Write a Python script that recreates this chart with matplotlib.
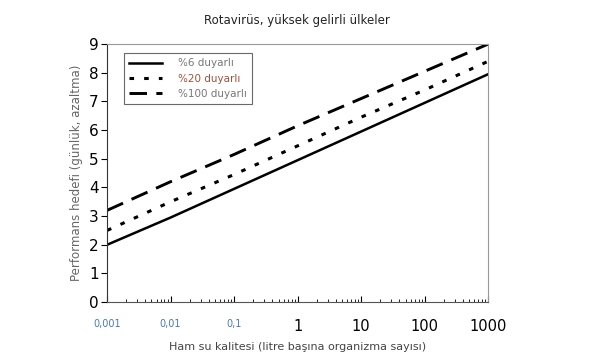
import numpy as np
import matplotlib.pyplot as plt
from matplotlib.ticker import LogLocator, NullFormatter

## Data
x_vals = [0.001, 0.01, 0.1, 1, 10, 100, 1000]
solid_6 = [2.0, 2.95, 3.95, 4.95, 5.95, 6.95, 7.95]
dotted_20 = [2.5, 3.5, 4.45, 5.45, 6.45, 7.4, 8.4]
dashed_100 = [3.2, 4.2, 5.15, 6.15, 7.1, 8.05, 9.0]

x_tick_labels = ["0,001", "0,01", "0,1", "1", "10", "100", "1000"]
y_ticks = list(range(0, 10))

fig = plt.figure(figsize=(6.05, 3.64), dpi=100)
ax = fig.add_axes([0.177, 0.170, 0.630, 0.709])

ax.plot(x_vals, solid_6, color="black", lw=1.8, label="%6 duyarlı")
ax.plot(x_vals, dotted_20, color="black", lw=2.2, linestyle=(0, (1.5, 3.3)), label="%20 duyarlı")
ax.plot(x_vals, dashed_100, color="black", lw=2.1, linestyle=(0, (6.0, 3.2)), label="%100 duyarlı")

ax.set_xscale("log")
ax.set_xlim(0.001, 1000)
ax.set_ylim(0, 9)
ax.set_yticks(y_ticks)
ax.tick_params(axis="y", labelsize=11, direction="out", length=4, pad=2)

ax.set_xticks(x_vals)
ax.set_xticklabels(x_tick_labels)
ax.xaxis.set_minor_locator(LogLocator(base=10, subs=np.arange(2, 10), numticks=20))
ax.xaxis.set_minor_formatter(NullFormatter())
ax.tick_params(axis="x", which="major", direction="in", length=4, pad=12)
ax.tick_params(axis="x", which="minor", direction="in", length=2)
for i, lab in enumerate(ax.get_xticklabels()):
    if i < 3:
        lab.set_color("#4a78c0")
        lab.set_fontsize(7)
    else:
        lab.set_fontsize(10.5)

for side in ["top", "right"]:
    ax.spines[side].set_color("#999999")
ax.spines["left"].set_color("#333333")
ax.spines["bottom"].set_color("#555555")

ax.set_xlabel("Ham su kalitesi (litre başına organizma sayısı)", fontsize=8, color="#444444", labelpad=6)
ax.set_ylabel("Performans hedefi (günlük, azaltma)", fontsize=8.5, color="#666666", labelpad=4)
fig.text(0.49, 0.945, "Rotavirüs, yüksek gelirli ülkeler", ha="center", va="center", fontsize=8.5, color="#222222")

leg = ax.legend(loc="upper left", bbox_to_anchor=(0.03, 0.985), frameon=True, fancybox=False,
                fontsize=7.5, handlelength=3.2, borderpad=0.5, labelspacing=0.5, handletextpad=1.5)
leg.get_frame().set_edgecolor("#444444")
leg.get_frame().set_linewidth(0.8)
text_colors = ["#777777", "#a0523c", "#777777"]
for t, c in zip(leg.get_texts(), text_colors):
    t.set_color(c)

fig.savefig("out.png", dpi=100)
